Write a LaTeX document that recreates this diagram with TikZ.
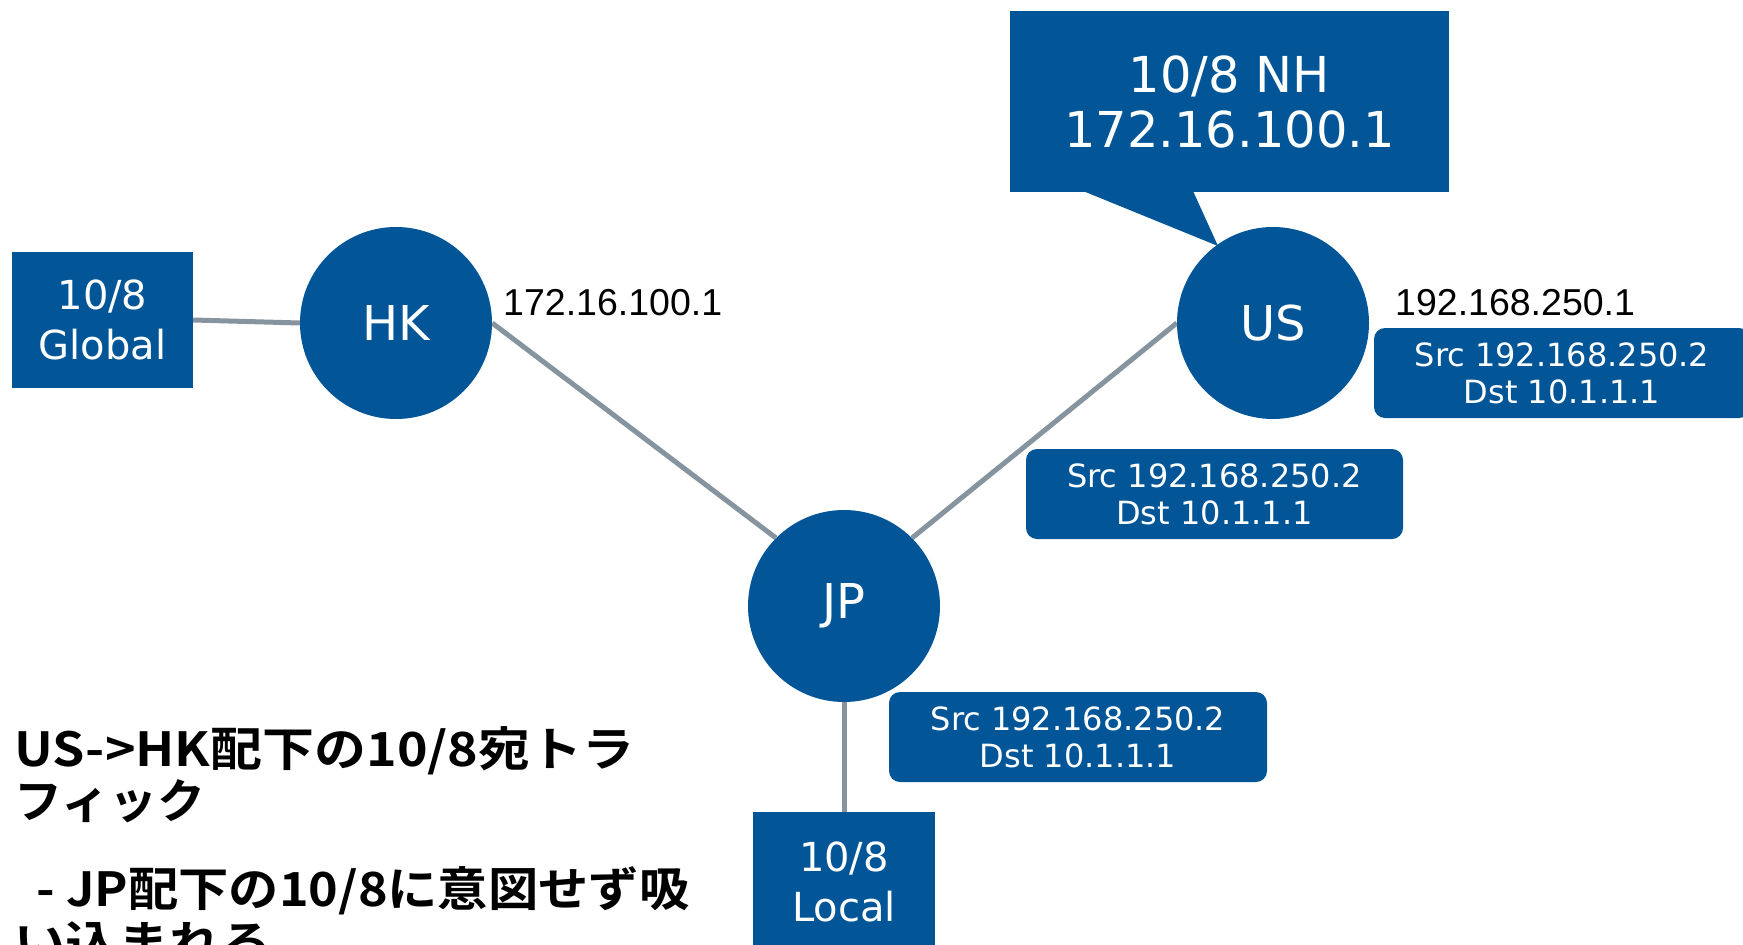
\documentclass[tikz,border=0pt]{standalone}
\usepackage{graphicx}
\usepackage{fontspec}
\setmainfont{DejaVu Sans}
\newfontfamily\lbl{Liberation Sans}
\newfontfamily\jpf{Noto Sans CJK JP}[BoldFont={* Bold}]
\definecolor{nodeblue}{RGB}{2,86,152}
\definecolor{linegrey}{RGB}{133,148,158}
\tikzset{
  router/.style={circle, fill=nodeblue, text=white, minimum size=192pt, inner sep=0pt, font=\fontsize{48}{54}\selectfont},
  netbox/.style={rectangle, fill=nodeblue, text=white, inner sep=0pt, align=center, font=\fontsize{40}{50}\selectfont},
  pktbox/.style={rectangle, rounded corners=11pt, fill=nodeblue, text=white, inner sep=0pt, align=center, minimum height=90pt, font=\fontsize{32}{37}\selectfont},
  link/.style={draw=linegrey, line width=5pt},
  iplabel/.style={anchor=base west, inner sep=0pt, font=\lbl\fontsize{37.5}{46}\selectfont},
  jptext/.style={anchor=base west, inner sep=0pt, font=\jpf\bfseries\fontsize{47}{52}\selectfont}
}
\begin{document}
\begin{tikzpicture}[x=1pt,y=-1pt]
\clip (0,0) rectangle (1743,945);
\fill[white] (0,0) rectangle (1743,945);
% callout (behind US)
\node[netbox, minimum width=439pt, minimum height=181pt, font=\fontsize{49.5}{55}\selectfont] (nh) at (1229.5,101.5) {10/8 NH\\172.16.100.1};
\coordinate (tip) at (1218,246);
\fill[nodeblue] (1083,191) -- (tip) -- (1193,191) -- cycle;
% boxes
\node[netbox, minimum width=181pt, minimum height=136pt] (glob) at (102.5,320) {10/8\\Global};
\node[netbox, minimum width=182pt, minimum height=140pt] (local) at (844,882) {10/8\\Local};
% router positions (coordinates for links)
\node[circle, minimum size=192pt, inner sep=0pt] (hk) at (396,323) {};
\node[circle, minimum size=192pt, inner sep=0pt] (jp) at (844,606) {};
\node[circle, minimum size=192pt, inner sep=0pt] (us) at (1273,323) {};
% links
\draw[link] (glob.east) -- (hk.west);
\draw[link] (hk.east) -- (jp.135);
\draw[link] (jp.45) -- (us.west);
\draw[link] (jp.south) -- (local.north);
% routers over line ends
\node[router] (hkr) at (hk) {HK};
\node[router] (jpr) at (jp) {JP};
\node[router] (usr) at (us) {US};
% labels
\node[iplabel] (ip1) at (503,315) {172.16.100.1};
\node[iplabel] (ip2) at (1395,315) {192.168.250.1};
% packets
\node[pktbox, minimum width=376pt] (src1) at (1562,373) {Src 192.168.250.2\\Dst 10.1.1.1};
\node[pktbox, minimum width=377pt] (src2) at (1214.5,494) {Src 192.168.250.2\\Dst 10.1.1.1};
\node[pktbox, minimum width=378pt] (src3) at (1078,737) {Src 192.168.250.2\\Dst 10.1.1.1};
% text
\node[jptext] (t1) at (14,766) {\scalebox{1.105}[1]{US->HK配下の10/8宛トラ}};
\node[jptext] (t2) at (14,818) {\scalebox{1.02}[1]{フィック}};
\node[jptext] (t3) at (36,906) {\scalebox{1.07}[1]{- JP配下の10/8に意図せず吸}};
\node[jptext] (t4) at (14,960) {\scalebox{1.1}[1]{い込まれる}};
\end{tikzpicture}
\end{document}
